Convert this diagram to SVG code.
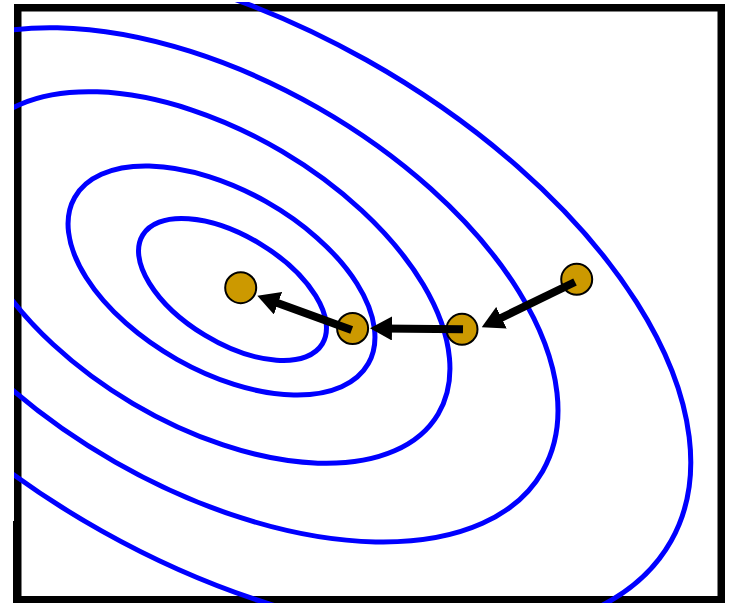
<svg xmlns="http://www.w3.org/2000/svg" width="730" height="603" viewBox="0 0 730 603">
<defs>
<clipPath id="plotclip"><rect x="14" y="2" width="711" height="601"/></clipPath>
<marker id="ah" markerUnits="userSpaceOnUse" markerWidth="22" markerHeight="24" viewBox="0 0 22 24" refX="10" refY="12" orient="auto"><path d="M0,0 L22,12 L0,24 z" fill="#000"/></marker>
</defs>
<style>
.frame{fill:none;stroke:#000;stroke-width:7.5}
.contour{fill:none;stroke:#0000FF;stroke-width:5}
.pt{fill:#CC9900;stroke:#000;stroke-width:2}
.step{stroke:#000;stroke-width:8;fill:none;marker-end:url(#ah)}
</style>
<rect fill="#fff" x="0" y="0" width="730" height="603"/>
<g id="frame">
<rect class="frame" x="17.75" y="7.75" width="703.5" height="592"/>
<rect x="13" y="521" width="2" height="82" fill="#000"/>
</g>
<g id="contours" clip-path="url(#plotclip)">
<ellipse class="contour" cx="232.5" cy="289.5" rx="105" ry="53.4" transform="rotate(31.2 232.5 289.5)"/>
<ellipse class="contour" cx="221.5" cy="280.5" rx="168.7" ry="90.6" transform="rotate(29.5 221.5 280.5)"/>
<ellipse class="contour" cx="207.5" cy="277.5" rx="268" ry="146.5" transform="rotate(30.6 207.5 277.5)"/>
<ellipse class="contour" cx="216.5" cy="284.85" rx="375.6" ry="204.1" transform="rotate(29.74 216.5 284.85)"/>
<ellipse class="contour" cx="234.2" cy="295.6" rx="501.1" ry="270.1" transform="rotate(29.3 234.2 295.6)"/>
</g>
<g id="p0"><circle class="pt" cx="240.7" cy="287.7" r="15.5"/></g>
<g id="p1"><circle class="pt" cx="352.6" cy="328.5" r="15.5"/></g>
<g id="p2"><circle class="pt" cx="462" cy="329.3" r="15.5"/></g>
<g id="p3"><circle class="pt" cx="576.7" cy="279.3" r="15.5"/></g>
<g id="connectors">
<line class="step" x1="575" y1="282" x2="492.5" y2="322.1"/>
<line class="step" x1="463" y1="329.3" x2="382" y2="328.4"/>
<line class="step" x1="351.7" y1="330" x2="268.6" y2="299.8"/>
</g>
</svg>
